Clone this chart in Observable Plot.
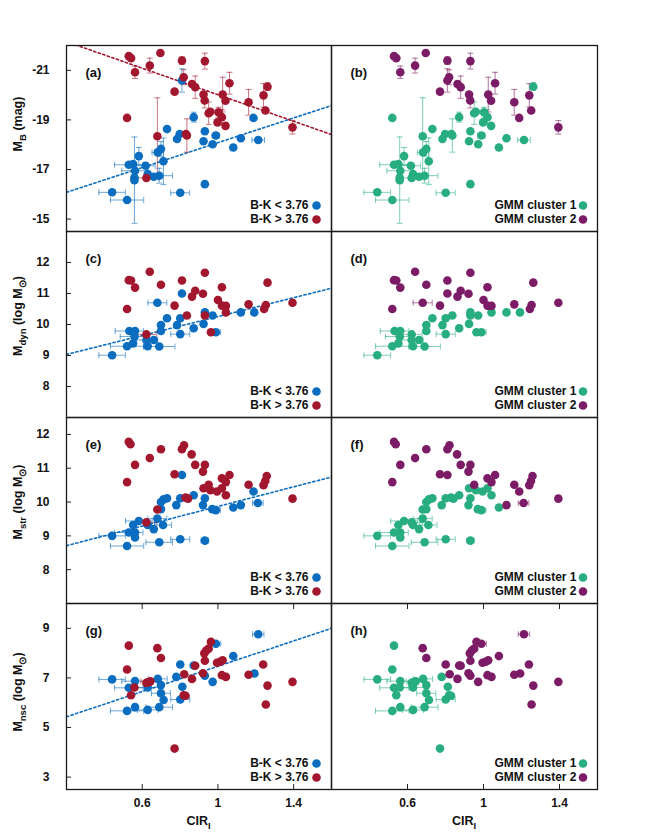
<!DOCTYPE html>
<html><head><meta charset="utf-8">
<script src="https://cdn.jsdelivr.net/npm/d3@7"></script>
<script src="https://cdn.jsdelivr.net/npm/@observablehq/plot@0.6"></script>
<style>
body{margin:0;background:#fff;}
#fig{position:relative;width:664px;height:836px;background:#fff;}
</style>
</head><body>
<div id="fig"></div>
<script>
// columns: CIR_I, value, B-K group (1: <3.76, 2: >3.76), GMM cluster (1/2), x error, y error
const MB = [
[0.529,-21.57,2,2,0,0],[0.541,-21.49,2,2,0,0],[0.696,-21.70,2,2,0,0],[0.562,-20.92,2,2,0,0.25],
[0.640,-21.19,2,2,0,0.3],[0.810,-21.39,2,2,0,0.15],[0.931,-21.37,2,2,0,0.32],[0.819,-20.72,2,2,0,0.3],
[0.771,-20.14,2,2,0,0],[0.863,-20.45,2,2,0,0.1],[0.880,-20.32,2,2,0,0.45],[0.924,-20.02,2,2,0,0.1],
[0.930,-19.78,2,2,0,0.3],[1.061,-20.48,2,2,0,0.44],[1.025,-20.02,2,2,0,0.7],[1.040,-19.77,2,2,0,0.1],
[0.951,-19.27,2,1,0,0.45],[0.960,-19.33,2,1,0,0],[1.003,-19.31,2,1,0,0.2],[1.021,-19.11,2,1,0,0.3],
[0.998,-18.90,2,1,0,0],[1.040,-18.76,2,1,0,0.1],[1.162,-19.71,2,2,0,0.52],[1.241,-19.99,2,2,0,0.47],
[1.262,-20.34,2,1,0,0.15],[1.251,-19.38,2,2,0,0],[1.394,-18.70,2,2,0,0.27],[0.520,-19.08,2,1,0,0.1],
[0.680,-18.34,2,1,0,1.55],[0.831,-18.43,2,1,0,0],[0.836,-18.37,2,1,0,0.67],[0.622,-16.66,2,1,0.065,0.1],
[0.810,-20.59,1,2,0,0.47],[0.872,-19.11,1,1,0,0.2],[1.188,-19.08,1,2,0,0.05],[0.731,-18.63,1,1,0,0.05],
[0.784,-18.23,1,1,0,0],[0.798,-18.43,1,1,0,0],[0.931,-18.54,1,1,0,0],[0.989,-18.37,1,1,0.02,0],
[0.924,-18.14,1,1,0,0],[0.972,-18.02,1,1,0,0],[1.121,-18.26,1,1,0,0],[1.081,-17.89,1,1,0,0.1],
[1.213,-18.19,1,1,0.033,0.1],[0.699,-17.83,1,1,0,0.3],[0.682,-17.69,1,1,0.03,0],[0.582,-17.54,1,1,0,0.35],
[0.712,-17.33,1,1,0,0.94],[0.529,-17.19,1,1,0.075,0],[0.552,-17.22,1,1,0,0],[0.618,-17.15,1,1,0.05,0],
[0.562,-16.95,1,1,0.07,0],[0.559,-16.68,1,1,0,0],[0.559,-16.57,1,1,0,1.74],[0.629,-16.82,1,1,0,0],
[0.661,-16.71,1,1,0,0],[0.690,-16.75,1,1,0.07,0.3],[0.931,-16.41,1,1,0,0.05],[0.441,-16.08,1,1,0.07,0],
[0.520,-15.77,1,1,0.088,0],[0.801,-16.06,1,1,0.05,0]
];
const MDYN = [
[0.640,11.70,2,2],[0.529,11.43,2,2],[0.541,11.42,2,2],[0.562,11.19,2,2],[0.699,11.28,2,2],
[0.810,11.42,2,2],[0.931,11.67,2,2],[0.880,11.09,2,2],[0.863,10.90,2,2],[0.921,10.99,2,2],
[1.021,11.20,2,2],[0.771,10.61,2,2],[1.000,10.79,2,2],[1.021,10.61,2,2],[1.042,10.60,2,2],
[1.042,10.39,2,1],[1.162,10.65,2,2],[1.244,10.50,2,2],[1.253,10.63,2,2],[1.262,11.35,2,2],
[1.394,10.70,2,2],[0.520,10.50,2,2],[0.836,10.29,2,1],[0.931,10.29,2,1],[0.963,9.75,2,1],
[0.622,9.68,2,1,0.055],
[0.810,11.00,1,2],[0.680,10.70,1,2,0.05],[0.931,10.39,1,1],[0.972,10.29,1,1],[1.121,10.39,1,1],
[1.192,10.39,1,1],[0.731,10.20,1,1],[0.801,10.20,1,1],[0.699,9.98,1,1],[0.784,9.98,1,1],
[0.924,10.02,1,1],[0.872,9.88,1,1],[0.989,9.75,1,1,0.025],[0.699,9.79,1,1],[0.801,9.69,1,1,0.05],
[0.532,9.79,1,1,0.075],[0.562,9.79,1,1],[0.559,9.61,1,1,0.075],[0.622,9.50,1,1,0.06],[0.661,9.50,1,1],
[0.552,9.39,1,1],[0.520,9.30,1,1,0.088],[0.629,9.30,1,1],[0.690,9.29,1,1,0.083],[0.441,9.01,1,1,0.07]
];
const MSTR = [
[0.529,11.78,2,2],[0.538,11.71,2,2],[0.562,11.10,2,2],[0.640,11.30,2,2],[0.699,11.56,2,2],
[0.810,11.56,2,2],[0.821,11.68,2,2],[0.861,11.41,2,2],[0.880,11.10,2,2],[0.931,11.10,2,2],
[0.921,10.90,2,2],[0.771,10.82,2,2],[1.021,10.70,2,2],[1.042,10.59,2,2],[1.061,10.80,2,2],
[0.951,10.51,2,2],[0.924,10.41,2,1],[0.960,10.35,2,1],[1.021,10.41,2,1],[0.995,10.31,2,1],
[1.042,10.20,2,1],[1.162,10.51,2,2],[1.241,10.50,2,2],[1.250,10.62,2,2],[1.258,10.77,2,2],
[1.394,10.10,2,2],[0.520,10.59,2,2],[0.829,10.13,2,1],[0.842,10.10,2,1],[0.680,9.78,2,1],
[0.622,9.40,2,1,0.055],
[0.810,10.80,1,2],[0.872,10.20,1,1],[1.188,10.31,1,2],[1.211,9.97,1,2,0.028],[0.731,10.11,1,1],
[0.713,10.08,1,1],[0.801,10.11,1,1],[0.699,10.00,1,1],[0.931,10.11,1,1],[0.780,9.91,1,1],
[0.921,9.91,1,1],[0.970,9.79,1,1],[0.989,9.76,1,1,0.024],[1.081,9.84,1,1],[1.121,9.91,1,2],
[0.699,9.79,1,1],[0.680,9.51,1,1,0.05],[0.582,9.44,1,1,0.07],[0.552,9.32,1,1],[0.629,9.32,1,1],
[0.710,9.32,1,1,0.045],[0.661,9.20,1,1],[0.529,9.10,1,1,0.075],[0.562,9.10,1,1],[0.562,8.95,1,1],
[0.441,9.00,1,1,0.07],[0.520,8.70,1,1,0.088],[0.690,8.81,1,1,0.07],[0.801,8.90,1,1,0.05],[0.931,8.86,1,1,0.02]
];
const MNSC = [
[0.529,8.30,2,1],[0.680,8.20,2,2],[0.699,7.80,2,2],[0.520,7.34,2,1],[0.541,6.30,2,1],
[0.559,6.61,2,1],[0.622,6.80,2,1],[0.634,6.83,2,1],[0.643,6.86,2,1,0.05],[0.771,4.15,2,1],
[0.822,7.15,2,2],[0.863,6.96,2,2],[0.880,7.49,2,2],[0.819,6.30,2,1],[0.829,6.28,2,1],
[0.921,7.19,2,2],[0.931,7.69,2,2],[0.928,7.99,2,2],[0.938,8.10,2,2],[0.951,8.18,2,2],
[0.963,8.46,2,2],[0.995,7.61,2,2],[1.012,7.65,2,2],[1.025,7.71,2,2],[1.021,7.11,2,2],
[1.042,7.04,2,2],[1.162,7.13,2,2],[1.239,7.54,2,2],[1.262,6.69,2,2],[1.253,5.93,2,2],[1.394,6.84,2,2],
[1.213,8.76,1,2,0.03],[0.989,8.38,1,2,0.026],[1.081,7.88,1,2],[0.801,7.54,1,2],[0.872,7.50,1,2],
[1.193,7.18,1,2],[0.780,7.04,1,1],[0.931,7.09,1,2],[0.972,6.84,1,2],[0.441,6.94,1,1,0.07],
[0.562,6.87,1,1,0.07],[0.682,6.96,1,1,0.05],[0.699,6.71,1,1],[0.529,6.60,1,1,0.075],[0.629,6.61,1,1,0.06],
[0.699,6.38,1,1,0.05],[0.812,6.64,1,1],[0.713,6.11,1,1],[0.801,6.13,1,1,0.05],[0.562,5.82,1,1],
[0.520,5.67,1,1,0.088],[0.629,5.71,1,1,0.055],[0.690,5.82,1,1,0.07]
];
// linear fits: value = a + b * CIR_I (group 1 = blue, 2 = red)
const FIT_MB = [{g:1,a:-15.58,b:-2.5},{g:2,a:-22.69,b:2.675}];
const FIT_DYN = [{g:1,a:8.73,b:1.525}];
const FIT_STR = [{g:1,a:8.42,b:1.45}];
const FIT_NSC = [{g:1,a:4.92,b:2.55}];

const CIR_DOMAIN = [0.2, 1.6];
const CIR_TICKS = [0.6, 1, 1.4];
const MB_TICKS = [-21,-19,-17,-15];
const DYN_TICKS = [8,9,10,11,12];
const STR_TICKS = [8,9,10,11,12];
const NSC_TICKS = [3,5,7,9];
const BK_LABELS = ["B-K < 3.76","B-K > 3.76"];
const GMM_LABELS = ["GMM cluster 1","GMM cluster 2"];
const PANEL_LABELS = [["(a)","(b)"],["(c)","(d)"],["(e)","(f)"],["(g)","(h)"]];
const Y_LABELS = [
  [["M",0],["B",1],[" (mag)",0]],
  [["M",0],["dyn",1],[" (log M",0],["\u2299",1],[")",0]],
  [["M",0],["str",1],[" (log M",0],["\u2299",1],[")",0]],
  [["M",0],["nsc",1],[" (log M",0],["\u2299",1],[")",0]]
];

const BK_COLORS = {1:"#0a6dbf", 2:"#a3172e"};
const GMM_COLORS = {1:"#27ad80", 2:"#7c1c66"};
const FONT = "'Liberation Sans', Arial, Helvetica, sans-serif";

const rows = [
  {data: MB, domain: [-14.5,-22], ticks: MB_TICKS, fits: FIT_MB, top: 45, ylab: 124},
  {data: MDYN, domain: [7,13], ticks: DYN_TICKS, fits: FIT_DYN, top: 231, ylab: 316},
  {data: MSTR, domain: [7,12.5], ticks: STR_TICKS, fits: FIT_STR, top: 417, ylab: 502},
  {data: MNSC, domain: [2.5,10], ticks: NSC_TICKS, fits: FIT_NSC, top: 603, ylab: 692}
];
const PH = 186;
const vcap = {draw(ctx){ ctx.moveTo(0,-3); ctx.lineTo(0,3); }};
const hcap = {draw(ctx){ ctx.moveTo(-3,0); ctx.lineTo(3,0); }};
const fig = document.getElementById("fig");

rows.forEach((row, ri) => {
  ["L","R"].forEach((side, si) => {
    const isLeft = side === "L";
    const isBottom = ri === 3;
    const x0 = isLeft ? 66 : 331, x1 = isLeft ? 331 : 597;
    const y0 = row.top, y1 = row.top + PH;
    const pal = isLeft ? BK_COLORS : GMM_COLORS;
    const gi = isLeft ? 2 : 3;
    const pts = row.data.map(d => ({x:d[0], y:d[1], g:d[gi], c:pal[d[gi]], xe:d[4]||0, ye:d[5]||0}))
      .sort((a,b) => a.g - b.g);
    const xErr = pts.filter(d => d.xe > 0), yErr = pts.filter(d => d.ye > 0);
    const marks = [];
    if (isLeft) {
      row.fits.forEach(f => {
        marks.push(Plot.line(CIR_DOMAIN.map(x => ({x, y: f.a + f.b*x})), {x:"x", y:"y", stroke: BK_COLORS[f.g], strokeWidth:1.6, strokeDasharray:"2.2,2.6", clip:true}));
      });
    }
    const eb = {stroke:"c", strokeOpacity:0.6, strokeWidth:1};
    marks.push(Plot.ruleY(xErr, {y:"y", x1: d=>d.x-d.xe, x2: d=>d.x+d.xe, ...eb}));
    marks.push(Plot.dot(xErr, {x: d=>d.x-d.xe, y:"y", symbol: vcap, r:3, fill:"none", ...eb}));
    marks.push(Plot.dot(xErr, {x: d=>d.x+d.xe, y:"y", symbol: vcap, r:3, fill:"none", ...eb}));
    marks.push(Plot.ruleX(yErr, {x:"x", y1: d=>d.y-d.ye, y2: d=>d.y+d.ye, ...eb}));
    marks.push(Plot.dot(yErr, {x:"x", y: d=>d.y-d.ye, symbol: hcap, r:3, fill:"none", ...eb}));
    marks.push(Plot.dot(yErr, {x:"x", y: d=>d.y+d.ye, symbol: hcap, r:3, fill:"none", ...eb}));
    marks.push(Plot.dot(pts, {x:"x", y:"y", fill:"c", r:4.3}));
    // legend
    const labs = isLeft ? BK_LABELS : GMM_LABELS;
    const tdx = isLeft ? -23 : -21, ddx = isLeft ? -15 : -14.5;
    [[-26,1],[-12,2]].forEach(([dy,g], k) => {
      marks.push(Plot.text([labs[k]], {text:d=>d, frameAnchor:"bottom-right", dx:tdx, dy, textAnchor:"end", lineAnchor:"middle", fontSize:12, fontWeight:"bold", fill:"#111"}));
      marks.push(Plot.dot([g], {frameAnchor:"bottom-right", dx:ddx, dy, r:4.3, fill:pal[g]}));
    });
    marks.push(Plot.text([PANEL_LABELS[ri][si]], {text:d=>d, frameAnchor:"top-left", dx:19, dy:27, textAnchor:"start", lineAnchor:"middle", fontSize:13, fontWeight:"bold", fill:"#111"}));
    if (isLeft) {
      marks.push(Plot.axisY(row.ticks, {anchor:"left", tickSize:-5, tickFormat:()=>"", label:null, stroke:"#222"}));
      marks.push(Plot.axisY(row.ticks, {anchor:"left", tickSize:0, tickPadding:17, label:null, tickFormat:d=>String(d), fontSize:12, fontWeight:"bold", fill:"#111"}));
    }
    if (isBottom) {
      marks.push(Plot.axisX(CIR_TICKS, {anchor:"bottom", tickSize:-5, tickFormat:()=>"", label:null, stroke:"#222"}));
      marks.push(Plot.axisX(CIR_TICKS, {anchor:"top", tickSize:-5, tickFormat:()=>"", label:null, stroke:"#222"}));
      marks.push(Plot.axisX(CIR_TICKS, {anchor:"bottom", tickSize:0, tickPadding:9, label:null, tickFormat:d=>String(d), fontSize:12, fontWeight:"bold", fill:"#111"}));
    }
    marks.push(Plot.frame({stroke:"#1a1a1a", strokeWidth:1.3}));
    const svg = Plot.plot({
      width: 664, height: 836,
      marginLeft: x0, marginRight: 664 - x1, marginTop: y0, marginBottom: 836 - y1,
      x: {domain: CIR_DOMAIN, axis: isBottom ? undefined : null},
      y: {domain: row.domain, axis: isLeft ? undefined : null},
      style: `position:absolute;left:0;top:0;background:transparent;overflow:visible;max-width:none;font-family:${FONT};color:#111;`,
      marks
    });
    const s = d3.select(svg);
    if (isLeft) {
      const t = s.append("text").attr("transform", `translate(22,${row.ylab}) rotate(-90)`)
        .attr("text-anchor","middle").attr("font-size",12.5).attr("font-weight","bold")
        .attr("font-family", FONT).attr("fill","#111");
      let shifted = false;
      Y_LABELS[ri].forEach(([txt, sub]) => {
        const ts = t.append("tspan").text(txt);
        if (sub && !shifted) { ts.attr("dy", 3.5).attr("font-size", 9.5); shifted = true; }
        else if (!sub && shifted) { ts.attr("dy", -3.5); shifted = false; }
        else if (sub) ts.attr("font-size", 9.5);
      });
    }
    if (isBottom) {
      const t = s.append("text").attr("x", (x0+x1)/2).attr("y", 825).attr("text-anchor","middle")
        .attr("font-size",12.5).attr("font-weight","bold").attr("font-family", FONT).attr("fill","#111");
      t.append("tspan").text("CIR");
      t.append("tspan").text("I").attr("dy",3.5).attr("font-size",9.5);
    }
    fig.appendChild(svg);
  });
});
</script>
</body></html>
